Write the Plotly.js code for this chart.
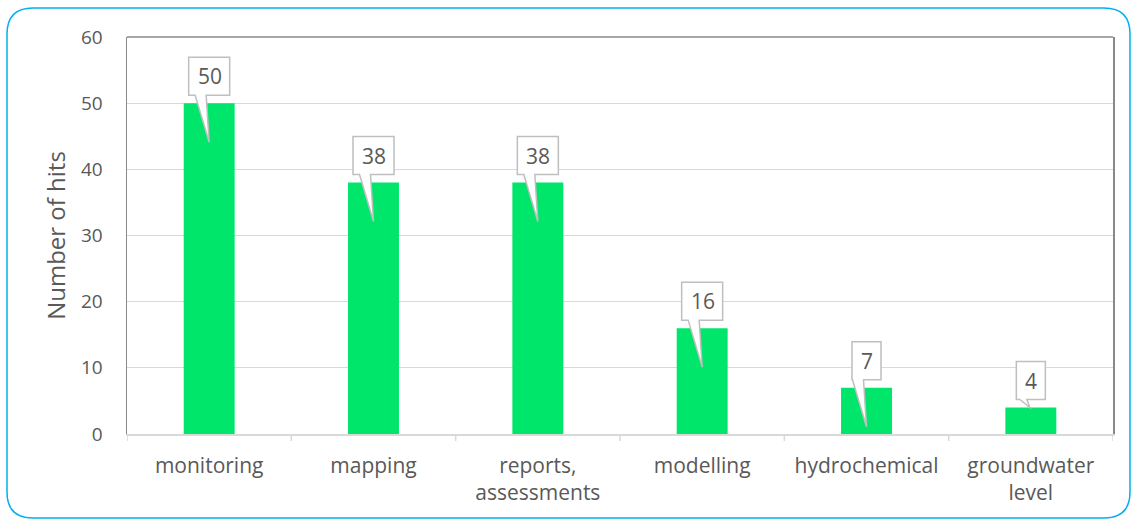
<!DOCTYPE html>
<html>
<head>
<meta charset="utf-8">
<script src="https://cdn.plot.ly/plotly-3.0.1.min.js"></script>
<style>
  html, body { margin: 0; padding: 0; background: #ffffff; }
  #chart { width: 1134px; height: 522px; }
</style>
</head>
<body>
<div id="chart"></div>
<script>
// Hits per topic
const categories = ['monitoring', 'mapping', 'reports,<br>assessments', 'modelling', 'hydrochemical', 'groundwater<br>level'];
const hits = [50, 38, 38, 16, 7, 4];

const W = 1134, H = 522;
const M = { l: 127, r: 21, t: 37, b: 88 };
const yMax = 60;
const plotH = H - M.t - M.b;
const pxPerUnit = plotH / yMax;

const textColor = '#595959';
const font = 'Open Sans, Noto Sans, sans-serif';

// Callout (label box with a pointer) drawn in pixel offsets around each bar top
function calloutPath(label, value) {
  const w = 17 + 12 * String(label).length;
  const x0 = -w / 2, x1 = w / 2;
  const yb = 8, yt = 46;
  const deep = value * pxPerUnit > 45;
  const tip = deep ? [0, -39] : [-1, 0];
  const tl = deep ? -14 : -11, tr = deep ? -3 : -4;
  return `M${x0},${yb} L${x0},${yt} L${x1},${yt} L${x1},${yb} L${tr},${yb} L${tip[0]},${tip[1]} L${tl},${yb} Z`;
}

const shapes = [];
const annotations = [];
hits.forEach((v, i) => {
  shapes.push({
    type: 'path', layer: 'above',
    xref: 'x', yref: 'y', xsizemode: 'pixel', ysizemode: 'pixel',
    xanchor: i, yanchor: v,
    path: calloutPath(v, v),
    fillcolor: '#ffffff',
    line: { color: '#bfbfbf', width: 1.5 }
  });
  annotations.push({
    x: i, y: v, xref: 'x', yref: 'y',
    text: String(v), showarrow: false,
    yshift: 27, xshift: 0.5,
    font: { family: font, size: 21, color: textColor }
  });
});

// Dark top edge of the plot frame
shapes.push({
  type: 'line', xref: 'paper', yref: 'paper', x0: 0, x1: 1, y0: 1, y1: 1,
  line: { color: '#898989', width: 1.5 }
});

// Rounded outer frame, in pixels relative to the paper origin
function rr(x0, y0, x1, y1, r) {
  const px = (X) => X - M.l;
  const py = (Y) => (H - M.b) - Y;
  const P = (X, Y) => `${px(X)},${py(Y)}`;
  return `M${P(x0 + r, y0)} L${P(x1 - r, y0)} Q${P(x1, y0)} ${P(x1, y0 + r)} ` +
         `L${P(x1, y1 - r)} Q${P(x1, y1)} ${P(x1 - r, y1)} ` +
         `L${P(x0 + r, y1)} Q${P(x0, y1)} ${P(x0, y1 - r)} ` +
         `L${P(x0, y0 + r)} Q${P(x0, y0)} ${P(x0 + r, y0)} Z`;
}
shapes.push({
  type: 'path', layer: 'below',
  xref: 'paper', yref: 'paper', xsizemode: 'pixel', ysizemode: 'pixel',
  xanchor: 0, yanchor: 0,
  path: rr(7, 8, 1130, 518, 26),
  line: { color: '#00B0F0', width: 1.5 }
});

// Category boundary tick marks below the axis
for (let k = 0; k <= categories.length; k++) {
  shapes.push({
    type: 'line', xref: 'x', yref: 'paper', ysizemode: 'pixel', yanchor: 0,
    x0: k - 0.5, x1: k - 0.5, y0: 0, y1: -7,
    line: { color: '#d9d9d9', width: 1.5 }
  });
}

const trace = {
  type: 'bar',
  x: categories.map((_, i) => i),
  y: hits,
  marker: { color: '#00E66B', line: { width: 0 } },
  width: 0.31,
  hoverinfo: 'skip'
};

const layout = {
  width: W, height: H,
  margin: M,
  paper_bgcolor: '#ffffff',
  plot_bgcolor: '#ffffff',
  showlegend: false,
  font: { family: font, color: textColor },
  xaxis: {
    type: 'linear',
    range: [-0.5, categories.length - 0.5],
    tickvals: categories.map((_, i) => i),
    ticktext: categories,
    showgrid: false,
    zeroline: false,
    showline: true, linecolor: '#d9d9d9', linewidth: 1.5,
    ticks: '',
    ticklabelstandoff: 12,
    tickfont: { family: font, size: 21, color: textColor },
    fixedrange: true
  },
  yaxis: {
    range: [0, yMax],
    dtick: 10,
    showgrid: true, gridcolor: '#d9d9d9', gridwidth: 1,
    zeroline: false,
    showline: true, mirror: true, linecolor: '#898989', linewidth: 1.5,
    ticks: '',
    ticklabelstandoff: 19,
    tickfont: { family: font, size: 19, color: textColor },
    title: { text: 'Number of hits', standoff: 8, font: { family: font, size: 24, color: textColor } },
    fixedrange: true
  },
  shapes: shapes,
  annotations: annotations
};

Plotly.newPlot('chart', [trace], layout, { displayModeBar: false, staticPlot: true });
</script>
</body>
</html>
